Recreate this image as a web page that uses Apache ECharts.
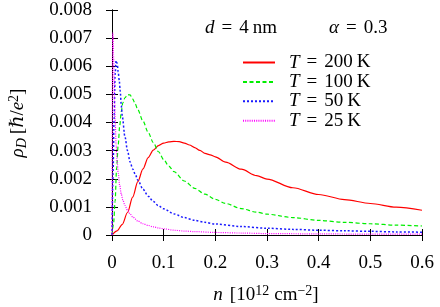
<!DOCTYPE html>
<html>
<head>
<meta charset="utf-8">
<script src="https://cdn.jsdelivr.net/npm/echarts@6/dist/echarts.min.js"></script>
<style>html,body{margin:0;padding:0;background:#fff}#c{width:440px;height:307px}</style>
</head>
<body>
<div id="c"></div>
<script>
const xTickValues = [0, 0.1, 0.2, 0.3, 0.4, 0.5, 0.6];
const yTickValues = [0, 0.001, 0.002, 0.003, 0.004, 0.005, 0.006, 0.007, 0.008];
const seriesNames = ['T = 200 K', 'T = 100 K', 'T = 50 K', 'T = 25 K'];
const legendTemps = ['200', '100', '50', '25'];

const n200 = [0, 0.01, 0.02, 0.03, 0.04, 0.05, 0.06, 0.07, 0.08, 0.09, 0.10, 0.11, 0.12, 0.13, 0.14, 0.15, 0.16, 0.17, 0.18, 0.19, 0.20, 0.22, 0.25, 0.28, 0.30, 0.35, 0.40, 0.45, 0.50, 0.55, 0.60];
const rho200 = [0, 0.00015, 0.00038, 0.0008, 0.00135, 0.0019, 0.00235, 0.00275, 0.00302, 0.00318, 0.00327, 0.00331, 0.00333, 0.00332, 0.00327, 0.0032, 0.00311, 0.00301, 0.0029, 0.00285, 0.00278, 0.00259, 0.00234, 0.00211, 0.00199, 0.00168, 0.00144, 0.00126, 0.00112, 0.00099, 0.00088];

const n100 = [0, 0.003, 0.006, 0.009, 0.012, 0.015, 0.018, 0.021, 0.025, 0.03, 0.035, 0.04, 0.045, 0.05, 0.06, 0.07, 0.08, 0.09, 0.10, 0.11, 0.12, 0.14, 0.16, 0.18, 0.20, 0.22, 0.25, 0.28, 0.30, 0.35, 0.40, 0.45, 0.50, 0.55, 0.60];
const rho100 = [0, 0.0004, 0.0012, 0.0024, 0.0032, 0.0039, 0.0044, 0.0047, 0.00488, 0.00499, 0.00498, 0.00484, 0.00466, 0.00445, 0.00405, 0.00365, 0.00328, 0.00296, 0.00268, 0.00245, 0.00225, 0.00192, 0.00166, 0.00145, 0.00127, 0.00112, 0.00094, 0.00081, 0.00074, 0.00062, 0.00052, 0.00045, 0.0004, 0.00035, 0.00032];

const n50 = [0, 0.002, 0.004, 0.006, 0.008, 0.010, 0.012, 0.014, 0.016, 0.018, 0.020, 0.025, 0.03, 0.035, 0.04, 0.045, 0.05, 0.06, 0.07, 0.08, 0.09, 0.10, 0.12, 0.14, 0.16, 0.18, 0.20, 0.25, 0.30, 0.35, 0.40, 0.45, 0.50, 0.55, 0.60];
const rho50 = [0, 0.0022, 0.0041, 0.0057, 0.0062, 0.0061, 0.0058, 0.0055, 0.0051, 0.0046, 0.0042, 0.0035, 0.003, 0.0026, 0.00235, 0.00216, 0.00195, 0.00163, 0.00138, 0.00119, 0.00104, 0.00093, 0.00075, 0.00062, 0.00052, 0.00045, 0.00039, 0.0003, 0.00024, 0.0002, 0.00017, 0.00015, 0.00013, 0.00011, 0.0001];

const n25 = [0, 0.0005, 0.001, 0.0015, 0.002, 0.003, 0.004, 0.005, 0.006, 0.008, 0.010, 0.012, 0.015, 0.018, 0.021, 0.025, 0.03, 0.035, 0.04, 0.05, 0.06, 0.07, 0.08, 0.09, 0.10, 0.12, 0.14, 0.16, 0.20, 0.25, 0.30, 0.40, 0.50, 0.60];
const rho25 = [0, 0.0035, 0.0066, 0.0072, 0.0071, 0.0064, 0.0055, 0.0047, 0.0041, 0.0032, 0.0026, 0.0022, 0.00175, 0.00145, 0.00125, 0.00105, 0.00088, 0.00075, 0.00064, 0.0005, 0.0004, 0.00034, 0.00029, 0.00025, 0.00022, 0.00017, 0.00014, 0.00012, 0.00009, 0.00007, 0.00005, 0.00004, 0.00003, 0.00003];

const FONT = '"Liberation Serif", "DejaVu Serif", serif';
const FS = 19;

function zip(xs, ys) { return xs.map((x, i) => [x, ys[i]]); }

const chart = echarts.init(document.getElementById('c'), null, { renderer: 'canvas' });

const axisCommon = {
  axisLine: { show: true, lineStyle: { color: '#000', width: 1 } },
  axisTick: { show: true, inside: false, length: 6, lineStyle: { color: '#000', width: 1 } },
  splitLine: { show: false },
  minorTick: { show: false }
};

const LH = 16;
const legendRich = {
  s: { width: 9, lineHeight: LH },
  g: { width: 7, lineHeight: LH },
  k: { width: 4, lineHeight: LH },
  i: { fontStyle: 'italic', fontFamily: FONT, fontSize: FS, color: '#000', lineHeight: LH },
  r: { fontFamily: FONT, fontSize: FS, color: '#000', lineHeight: LH }
};

function lineSeries(name, data, color, dash, width) {
  return {
    name: name, type: 'line', data: data, symbol: 'none', showSymbol: false,
    smooth: 0.3, smoothMonotone: 'x',
    lineStyle: { color: color, width: width, type: dash },
    itemStyle: { color: color },
    emphasis: { disabled: true }, animation: false, z: 3
  };
}

const mathRich = {
  i: { fontStyle: 'italic', fontFamily: FONT, fontSize: FS },
  r: { fontFamily: FONT, fontSize: FS },
  g: { width: 7 },
  t: { width: 4 }
};

const option = {
  animation: false,
  backgroundColor: '#fff',
  textStyle: { fontFamily: FONT },
  grid: { left: 112, right: 18, top: 10, bottom: 72, containLabel: false },
  xAxis: [
    Object.assign({}, axisCommon, {
      type: 'value', position: 'bottom', min: 0, max: 0.6, interval: 0.1,
      axisLabel: { show: true, margin: 19, color: '#000', fontFamily: FONT, fontSize: FS,
        formatter: v => v === 0 ? '0' : v.toFixed(1) }
    }),
    Object.assign({}, axisCommon, {
      type: 'value', position: 'top', min: 0, max: 0.6, interval: 0.1,
      axisLabel: { show: false }
    })
  ],
  yAxis: [
    Object.assign({}, axisCommon, {
      type: 'value', position: 'left', min: 0, max: 0.008, interval: 0.001,
      axisLabel: { show: true, margin: 20, color: '#000', fontFamily: FONT, fontSize: FS,
        formatter: v => v === 0 ? '0' : v.toFixed(3) }
    }),
    Object.assign({}, axisCommon, {
      type: 'value', position: 'right', min: 0, max: 0.008, interval: 0.001,
      axisLabel: { show: false }
    })
  ],
  legend: {
    orient: 'vertical', left: 242, top: 53, itemWidth: 32, itemHeight: 10, itemGap: 0.4,
    padding: 0, selectedMode: false,
    itemStyle: { opacity: 0 },
    data: seriesNames,
    formatter: name => '{s|}{i|T}{g|}{r|=}{g|}{r|' + legendTemps[seriesNames.indexOf(name)] + '}{k|}{r|K}',
    textStyle: { fontFamily: FONT, fontSize: FS, color: '#000', lineHeight: LH, rich: legendRich }
  },
  graphic: [
    { type: 'text', x: 205, y: 28, style: {
        text: '{i|d}{g|}{r|=}{g|}{r|4}{t|}{r|nm}', fontFamily: FONT, fontSize: FS, fill: '#000', verticalAlign: 'middle',
        rich: mathRich } },
    { type: 'text', x: 329, y: 28, style: {
        text: '{i|α}{g|}{r|=}{g|}{r|0.3}', fontFamily: FONT, fontSize: FS, fill: '#000', verticalAlign: 'middle',
        rich: mathRich } },
    { type: 'text', x: 266, y: 295, style: {
        text: '{i|n}{g|}[10{sup|12}{t|}cm{sup|−2}]', fontFamily: FONT, fontSize: FS, fill: '#000', align: 'center', verticalAlign: 'middle',
        rich: {
          i: { fontStyle: 'italic', fontFamily: FONT, fontSize: FS, lineHeight: 22 },
          sup: { fontFamily: FONT, fontSize: 14, verticalAlign: 'top', lineHeight: 14 },
          g: { width: 7 },
          t: { width: 5 }
        } } },
    { type: 'text', x: 18, y: 123, rotation: Math.PI / 2, style: {
        text: '{i|ρ}{sub|D}{g|}[ℏ/{i|e}{sup|2}]', fontFamily: FONT, fontSize: FS, fill: '#000', align: 'center', verticalAlign: 'middle',
        rich: {
          i: { fontStyle: 'italic', fontFamily: FONT, fontSize: FS, lineHeight: 22 },
          sub: { fontStyle: 'italic', fontFamily: FONT, fontSize: 14, verticalAlign: 'bottom', lineHeight: 14 },
          sup: { fontFamily: FONT, fontSize: 14, verticalAlign: 'top', lineHeight: 14 },
          g: { width: 4 }
        } } }
  ],
  series: [
    lineSeries(seriesNames[0], zip(n200, rho200), '#ff0000', 'solid', 1.2),
    lineSeries(seriesNames[1], zip(n100, rho100), '#00ee00', [4, 2.5], 1.2),
    lineSeries(seriesNames[2], zip(n50, rho50), '#1a1aff', [2, 2], 1.5),
    lineSeries(seriesNames[3], zip(n25, rho25), '#ff00ff', [1, 1.2], 1.2)
  ]
};
chart.setOption(option);
</script>
</body>
</html>
